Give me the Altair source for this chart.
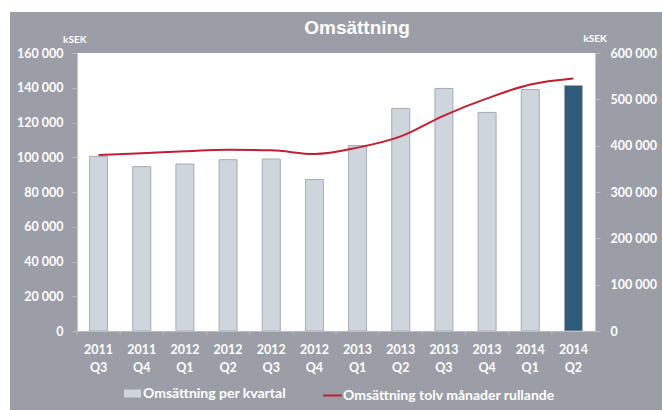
import altair as alt
import pandas as pd

quarters = ["2011 Q3", "2011 Q4", "2012 Q1", "2012 Q2", "2012 Q3", "2012 Q4",
            "2013 Q1", "2013 Q2", "2013 Q3", "2013 Q4", "2014 Q1", "2014 Q2"]
kvartal = [100500, 94600, 96100, 98600, 99000, 87200,
           106700, 128100, 139600, 125800, 139000, 141300]
rullande = [380000, 383500, 387800, 391000, 390000, 382000,
            395800, 420000, 465000, 502000, 532000, 545000]
serie_bar = "Omsättning per kvartal"
serie_line = "Omsättning tolv månader rullande"
fargklass = [serie_bar] * 11 + ["senaste"]

GRAY_BG = "#9b9ea6"
BAR_FILL = "#cfd5dd"
BAR_STROKE = "#a6abb3"
LAST_FILL = "#2e5b79"
RED = "#c0202f"
WHITE = "#ffffff"
FONT = "Lato"

df = pd.DataFrame({"q": quarters, "kvartal": kvartal, "rullande": rullande,
                   "klass": fargklass, "serie": serie_line})
one = pd.DataFrame({"t": ["Omsättning"]})

W, H = 518, 278
PL, PT, PR, PB = 77, 53, 67, 79

bg = alt.Chart(one).mark_rect(color=GRAY_BG).encode(
    x=alt.value(-PL + 10), x2=alt.value(W + PR), y=alt.value(-PT + 12), y2=alt.value(H + PB))
plotbg = alt.Chart(one).mark_rect(color=WHITE).encode(
    x=alt.value(0), x2=alt.value(W), y=alt.value(0), y2=alt.value(H))

xenc = alt.X("q:N", sort=quarters, scale=alt.Scale(paddingInner=0, paddingOuter=0),
             axis=alt.Axis(title=None, labelAngle=0, ticks=False, domainColor="#b9bcc2",
                           labelExpr="split(datum.label, ' ')", labelLineHeight=18,
                           labelBaseline="top", labelPadding=12, labelFont=FONT,
                           labelFontWeight="bold", labelFontSize=12.5, labelColor=WHITE,
                           zindex=1))

yfmt = "replace(format(datum.value, ','), ',', ' ')"

bars = alt.Chart(df).mark_bar(size=18, stroke=BAR_STROKE, strokeWidth=1).encode(
    x=xenc,
    y=alt.Y("kvartal:Q", scale=alt.Scale(domain=[0, 160000], nice=False),
            axis=alt.Axis(orient="left", values=list(range(0, 160001, 20000)), grid=False,
                          labelExpr=yfmt, title="kSEK", titleAngle=0, titleAlign="right",
                          titleBaseline="middle", titleX=9, titleY=-14, titleFont=FONT,
                          titleFontSize=10, titleFontWeight="bold", titleColor=WHITE,
                          tickSize=5, tickColor="#b9bcc2", domainColor="#c3c6cb",
                          labelPadding=9, labelFont=FONT, labelFontWeight="bold",
                          labelFontSize=12.5, labelColor=WHITE, zindex=1)),
    fill=alt.Fill("klass:N", scale=alt.Scale(domain=[serie_bar, "senaste"], range=[BAR_FILL, LAST_FILL]),
                  legend=alt.Legend(values=[serie_bar], title=None, orient="none", legendX=47,
                                    legendY=332, padding=0, symbolType="M-1,-0.47H1V0.47H-1Z",
                                    symbolSize=289, symbolStrokeWidth=0, labelOffset=2,
                                    labelFont=FONT, labelFontWeight="bold", labelFontSize=14,
                                    labelColor=WHITE, labelLimit=400)),
)

line = alt.Chart(df).mark_line(strokeWidth=2, interpolate="monotone").encode(
    x=alt.X("q:N", sort=quarters),
    y=alt.Y("rullande:Q", scale=alt.Scale(domain=[0, 600000], nice=False),
            axis=alt.Axis(orient="right", values=list(range(0, 600001, 100000)), grid=False,
                          labelExpr=yfmt, title="kSEK", titleAngle=0, titleAlign="left",
                          titleBaseline="middle", titleX=-12, titleY=-15, titleFont=FONT,
                          titleFontSize=10, titleFontWeight="bold", titleColor=WHITE,
                          tickSize=5, tickColor="#b9bcc2", domainColor="#c3c6cb",
                          labelPadding=10, labelFont=FONT, labelFontWeight="bold",
                          labelFontSize=12.5, labelColor=WHITE, zindex=1)),
    stroke=alt.Stroke("serie:N", scale=alt.Scale(range=[RED]),
                      legend=alt.Legend(title=None, orient="none", legendX=245, legendY=332,
                                        padding=0, symbolType="stroke", symbolSize=361,
                                        symbolStrokeWidth=2, labelOffset=0, labelFont=FONT,
                                        labelFontWeight="bold", labelFontSize=14,
                                        labelColor=WHITE, labelLimit=400)),
)

ticks = alt.Chart(df).mark_rule(color="#b9bcc2").encode(
    x=alt.X("q:N", sort=quarters, bandPosition=0),
    y=alt.value(H), y2=alt.value(H + 4))

title = alt.Chart(one).mark_text(font="Liberation Sans", fontWeight="bold", fontSize=19,
                                 color=WHITE, align="center", baseline="middle").encode(
    text="t:N", x=alt.value(280), y=alt.value(-25))

chart = alt.layer(bg, plotbg, bars, line, ticks, title).resolve_scale(
    y="independent", fill="independent", stroke="independent"
).properties(
    width=W, height=H, autosize=alt.AutoSizeParams(type="none"),
    padding={"left": PL, "top": PT, "right": PR, "bottom": PB},
    background=WHITE,
).configure_view(stroke=None)

chart.save("out.html", embed_options={"renderer": "svg", "actions": False})
